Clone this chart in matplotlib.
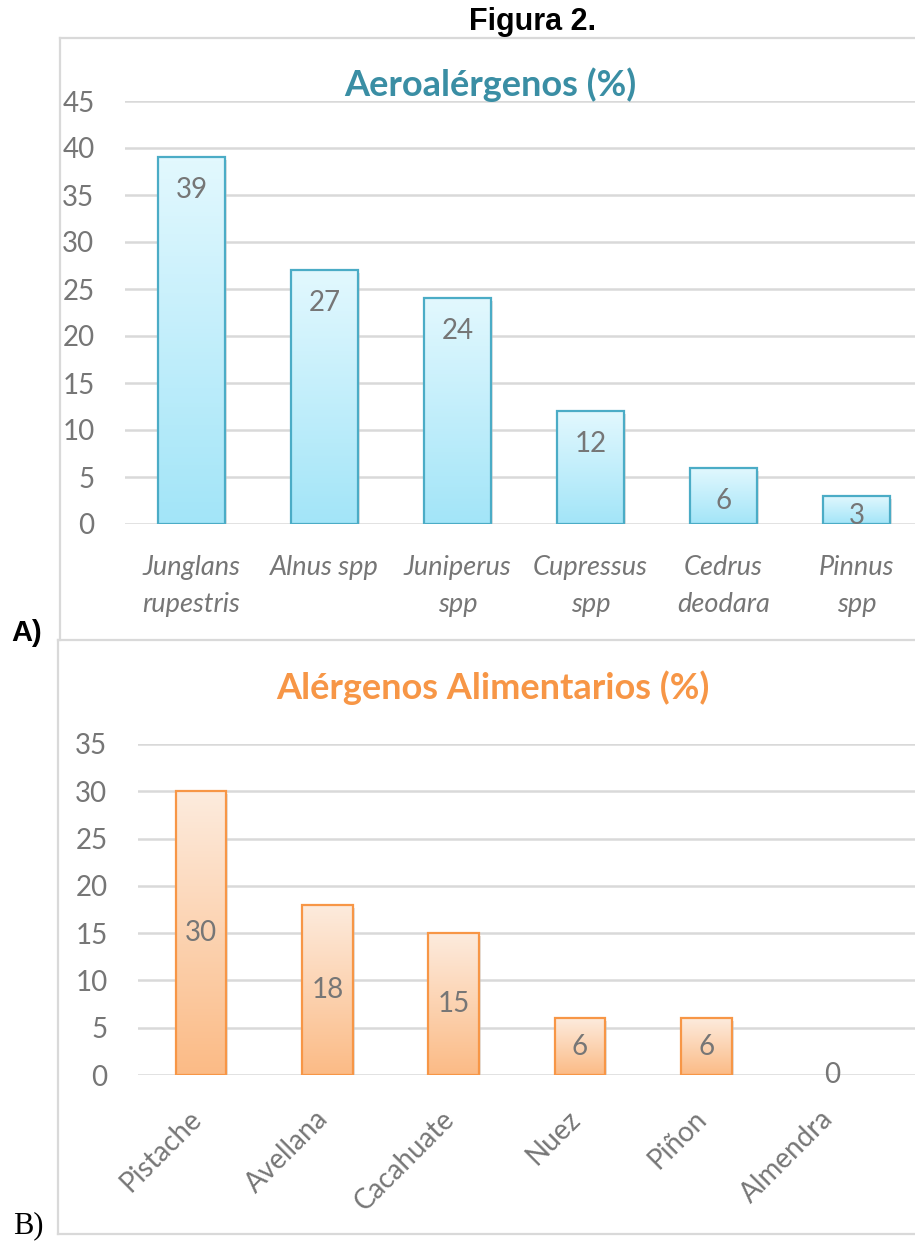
import matplotlib
matplotlib.use('Agg')
import matplotlib.pyplot as plt
import matplotlib.transforms as mtransforms
from matplotlib.colors import LinearSegmentedColormap
import numpy as np

# data
aero_labels = ['Junglans\nrupestris', 'Alnus spp', 'Juniperus\nspp', 'Cupressus\nspp',
               'Cedrus\ndeodara', 'Pinnus\nspp']
aero_values = [39, 27, 24, 12, 6, 3]
food_labels = ['Pistache', 'Avellana', 'Cacahuate', 'Nuez', 'Piñon', 'Almendra']
food_values = [30, 18, 15, 6, 6, 0]

W, H = 915, 1245
GRID = '#d9d9d9'
TXT = '#767676'
plt.rcParams['font.family'] = ['Lato', 'DejaVu Sans']

fig = plt.figure(figsize=(W / 100, H / 100), dpi=100)


def px_axes(x0, y0, x1, y1):
    # pixel box (top-left origin) -> figure fraction axes
    return fig.add_axes([x0 / W, 1 - y1 / H, (x1 - x0) / W, (y1 - y0) / H])


def frame_line(x0, y0, x1, y1):
    fig.add_artist(plt.Line2D([x0 / W, x1 / W], [1 - y0 / H, 1 - y1 / H],
                              color=GRID, lw=1.6, transform=fig.transFigure, zorder=0))


def gradient_bars(ax, values, width, c_top, c_bot, edge):
    cmap = LinearSegmentedColormap.from_list('g', [c_bot, c_top])
    grad = np.linspace(0, 1, 100).reshape(-1, 1)
    x = np.arange(len(values))
    shadow = mtransforms.offset_copy(ax.transData, fig=fig, x=2, y=-3, units='dots')
    ax.bar(x, values, width, color='#c8c8c8', alpha=0.5, lw=0, zorder=1.5,
           transform=shadow)
    for i, v in enumerate(values):
        if v <= 0:
            continue
        ax.imshow(grad, cmap=cmap, origin='lower', aspect='auto',
                  extent=[i - width / 2, i + width / 2, 0, v], zorder=2)
    ax.bar(x, values, width, facecolor='none',
           edgecolor=[edge if v > 0 else 'none' for v in values], lw=1.6, zorder=3)


def style_axes(ax, ymax, step):
    ax.set_ylim(0, ymax)
    ax.set_yticks(np.arange(0, ymax + 1, step))
    ax.yaxis.grid(True, color=GRID, lw=1.8)
    ax.set_axisbelow(True)
    for s in ax.spines.values():
        s.set_visible(False)
    ax.tick_params(axis='y', length=0, labelsize=20, labelcolor=TXT, pad=22)
    ax.tick_params(axis='x', length=0)
    ax.set_xticks([])


# panel frames
frame_line(60, 38, 915, 38)
frame_line(60, 38, 60, 640)
frame_line(58, 640, 915, 640)
frame_line(58, 640, 58, 1234)
frame_line(58, 1234, 915, 1234)

fig.text(533 / W, 1 - 22 / H, 'Figura 2.', family='Liberation Sans', weight='bold',
         fontsize=22, ha='center', va='center')
fig.text(27 / W, 1 - 633 / H, 'A)', family='Liberation Sans', weight='bold',
         fontsize=21, ha='center', va='center')
fig.text(28 / W, 1 - 1226 / H, 'B)', family='Liberation Serif',
         fontsize=22, ha='center', va='center')

# A) aeroalergenos
ax1 = px_axes(125, 101, 915, 524)
gradient_bars(ax1, aero_values, 0.51, '#e2f8fe', '#a3e5f8', '#4bacc6')
style_axes(ax1, 45, 5)
ax1.set_xlim(-0.5, -0.5 + 790 / 133)
for i, v in enumerate(aero_values):
    off = min(33, v * 9.4 / 2 + 6)
    ax1.annotate(str(v), (i, v), xytext=(0, -off * 0.72), textcoords='offset points',
                 ha='center', va='center', fontsize=20, color=TXT, zorder=4)
    ax1.annotate(aero_labels[i], (i, 0), xytext=(0, -22), textcoords='offset points',
                 ha='center', va='top', fontsize=19.5, style='italic', color=TXT,
                 linespacing=1.62, annotation_clip=False)
fig.text(490 / W, 1 - 85 / H, 'Aeroalérgenos (%)', color='#3a8ea4', weight='bold',
         fontsize=26, ha='center', va='center')

# B) alergenos alimentarios
ax2 = px_axes(138, 744, 915, 1075)
gradient_bars(ax2, food_values, 0.40, '#fdebdd', '#fbbb86', '#f79646')
style_axes(ax2, 35, 5)
ax2.set_xlim(-0.5, -0.5 + 777 / 126.3)
for i, v in enumerate(food_values):
    ax2.text(i, v / 2, str(v), ha='center', va='center', fontsize=20, color=TXT, zorder=4)
    off = mtransforms.offset_copy(ax2.transData, fig=fig, x=4, y=-22, units='points')
    ax2.text(i, 0, food_labels[i], transform=off, rotation=45,
             ha='right', va='top', fontsize=20, color=TXT, clip_on=False)
fig.text(493 / W, 1 - 688 / H, 'Alérgenos Alimentarios (%)', color='#f79646',
         weight='bold', fontsize=26, ha='center', va='center')

fig.savefig('out.png', dpi=100)
